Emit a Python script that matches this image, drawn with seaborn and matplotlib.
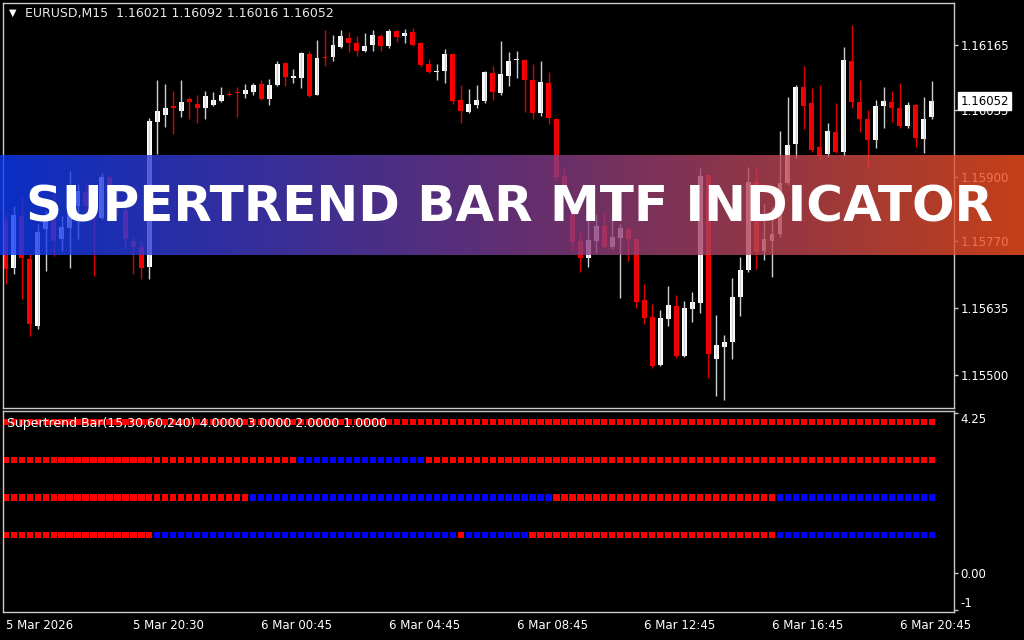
import numpy as np
import pandas as pd
import matplotlib.pyplot as plt
import seaborn as sns
from matplotlib.colors import LinearSegmentedColormap
from matplotlib.transforms import blended_transform_factory

# EURUSD M15 candles
opens = [1.15811, 1.15716, 1.15821, 1.15734, 1.15598, 1.15794, 1.15827, 1.15774, 1.15796, 1.15841,
         1.15868, 1.15851, 1.15817, 1.15898, 1.15851, 1.15831, 1.15770, 1.15758, 1.15718, 1.16009,
         1.16025, 1.16043, 1.16033, 1.16057, 1.16047, 1.16038, 1.16044, 1.16053, 1.16067, 1.16070,
         1.16066, 1.16071, 1.16086, 1.16056, 1.16084, 1.16128, 1.16098, 1.16098, 1.16147, 1.16065,
         1.16142, 1.16141, 1.16161, 1.16180, 1.16170, 1.16153, 1.16166, 1.16183, 1.16164, 1.16193,
         1.16183, 1.16191, 1.16170, 1.16126, 1.16110, 1.16113, 1.16148, 1.16055, 1.16030, 1.16045,
         1.16053, 1.16108, 1.16069, 1.16102, 1.16135, 1.16136, 1.16094, 1.16028, 1.16088, 1.16017,
         1.15902, 1.15824, 1.15770, 1.15735, 1.15770, 1.15800, 1.15758, 1.15775, 1.15794, 1.15774,
         1.15650, 1.15617, 1.15519, 1.15613, 1.15639, 1.15538, 1.15633, 1.15645, 1.15904, 1.15532,
         1.15556, 1.15566, 1.15656, 1.15711, 1.15889, 1.15749, 1.15770, 1.15784, 1.15887, 1.15966,
         1.16080, 1.16048, 1.15959, 1.15945, 1.15989, 1.15949, 1.16134, 1.16050, 1.16016, 1.15974,
         1.16042, 1.16051, 1.16038, 1.16001, 1.16045, 1.15975, 1.16021]
highs = [1.15824, 1.15841, 1.15858, 1.15743, 1.15804, 1.15831, 1.15865, 1.15821, 1.15912, 1.15885,
         1.15888, 1.15878, 1.15908, 1.15904, 1.15866, 1.15841, 1.15777, 1.15770, 1.16018, 1.16094,
         1.16086, 1.16073, 1.16095, 1.16060, 1.16065, 1.16073, 1.16070, 1.16081, 1.16072, 1.16081,
         1.16087, 1.16088, 1.16095, 1.16097, 1.16134, 1.16131, 1.16117, 1.16151, 1.16154, 1.16175,
         1.16195, 1.16185, 1.16196, 1.16191, 1.16183, 1.16190, 1.16196, 1.16188, 1.16198, 1.16195,
         1.16198, 1.16200, 1.16171, 1.16137, 1.16126, 1.16158, 1.16149, 1.16084, 1.16077, 1.16084,
         1.16112, 1.16122, 1.16173, 1.16152, 1.16154, 1.16137, 1.16126, 1.16132, 1.16110, 1.16018,
         1.15915, 1.15831, 1.15790, 1.15817, 1.15824, 1.15829, 1.15827, 1.15804, 1.15799, 1.15775,
         1.15683, 1.15642, 1.15630, 1.15679, 1.15661, 1.15649, 1.15667, 1.15918, 1.15905, 1.15620,
         1.15581, 1.15696, 1.15738, 1.15920, 1.15920, 1.15844, 1.15838, 1.15991, 1.16061, 1.16084,
         1.16123, 1.16078, 1.16084, 1.16007, 1.16048, 1.16162, 1.16205, 1.16094, 1.16034, 1.16055,
         1.16081, 1.16073, 1.16088, 1.16051, 1.16046, 1.16061, 1.16092]
lows = [1.15683, 1.15703, 1.15652, 1.15578, 1.15592, 1.15710, 1.15740, 1.15750, 1.15716, 1.15774,
        1.15817, 1.15699, 1.15814, 1.15821, 1.15821, 1.15753, 1.15703, 1.15693, 1.15693, 1.15945,
        1.15999, 1.15986, 1.16021, 1.16015, 1.16007, 1.16017, 1.16043, 1.16051, 1.16063, 1.16021,
        1.16058, 1.16065, 1.16055, 1.16044, 1.16082, 1.16082, 1.16088, 1.16079, 1.16060, 1.16064,
        1.16123, 1.16133, 1.16160, 1.16151, 1.16143, 1.16152, 1.16153, 1.16153, 1.16159, 1.16171,
        1.16169, 1.16163, 1.16121, 1.16108, 1.16094, 1.16088, 1.16046, 1.16007, 1.16028, 1.16038,
        1.16048, 1.16055, 1.16065, 1.16082, 1.16098, 1.16030, 1.16015, 1.16022, 1.16005, 1.15893,
        1.15861, 1.15750, 1.15708, 1.15718, 1.15745, 1.15755, 1.15753, 1.15654, 1.15730, 1.15634,
        1.15602, 1.15514, 1.15518, 1.15598, 1.15533, 1.15536, 1.15607, 1.15625, 1.15494, 1.15458,
        1.15449, 1.15531, 1.15618, 1.15708, 1.15713, 1.15732, 1.15697, 1.15778, 1.15883, 1.15937,
        1.15996, 1.15950, 1.15932, 1.15940, 1.15947, 1.15942, 1.16038, 1.15989, 1.15918, 1.15957,
        1.15997, 1.16009, 1.15998, 1.15998, 1.15960, 1.15947, 1.16016]
closes = [1.15713, 1.15823, 1.15735, 1.15602, 1.15789, 1.15811, 1.15770, 1.15799, 1.15838, 1.15870,
          1.15841, 1.15821, 1.15898, 1.15851, 1.15843, 1.15774, 1.15758, 1.15716, 1.16011, 1.16033,
          1.16039, 1.16038, 1.16051, 1.16050, 1.16038, 1.16063, 1.16055, 1.16065, 1.16064, 1.16068,
          1.16075, 1.16084, 1.16056, 1.16084, 1.16127, 1.16100, 1.16102, 1.16149, 1.16062, 1.16140,
          1.16139, 1.16166, 1.16183, 1.16169, 1.16154, 1.16164, 1.16185, 1.16163, 1.16193, 1.16181,
          1.16190, 1.16166, 1.16124, 1.16110, 1.16113, 1.16148, 1.16053, 1.16033, 1.16046, 1.16055,
          1.16110, 1.16070, 1.16106, 1.16134, 1.16137, 1.16094, 1.16028, 1.16090, 1.16019, 1.15900,
          1.15868, 1.15767, 1.15735, 1.15772, 1.15800, 1.15758, 1.15778, 1.15796, 1.15774, 1.15647,
          1.15615, 1.15517, 1.15615, 1.15641, 1.15538, 1.15635, 1.15647, 1.15902, 1.15541, 1.15560,
          1.15566, 1.15656, 1.15711, 1.15889, 1.15747, 1.15774, 1.15784, 1.15887, 1.15964, 1.16080,
          1.16043, 1.15954, 1.15942, 1.15991, 1.15950, 1.16136, 1.16050, 1.16015, 1.15974, 1.16043,
          1.16053, 1.16038, 1.16001, 1.16045, 1.15977, 1.16017, 1.16052]

# supertrend rows: runs of (colour, bars); level 4..1 = M15, M30, H1, H4
st_levels = [4, 3, 2, 1]
st_runs = {
    4: [('red', 117)],
    3: [('red', 37), ('blue', 16), ('red', 64)],
    2: [('red', 31), ('blue', 38), ('red', 28), ('blue', 20)],
    1: [('red', 19), ('blue', 38), ('red', 1), ('blue', 8), ('red', 31), ('blue', 20)],
}

price_ticks = [1.16165, 1.16035, 1.15900, 1.15770, 1.15635, 1.15500]
ind_ticks = [4.25, 0.0, -1.0]
ind_labels = ['4.25', '0.00', '-1']
time_ticks = [0, 16, 32, 48, 64, 80, 96, 112]
time_labels = ['5 Mar 2026', '5 Mar 20:30', '6 Mar 00:45', '6 Mar 04:45',
               '6 Mar 08:45', '6 Mar 12:45', '6 Mar 16:45', '6 Mar 20:45']

sns.set_theme(style='dark', rc={'figure.facecolor': 'black', 'axes.facecolor': 'black',
                                'axes.edgecolor': '#c8c8c8', 'axes.grid': False})
plt.rcParams['font.family'] = ['DejaVu Sans']

W, H = 1024, 640
fig = plt.figure(figsize=(W / 100, H / 100), dpi=100)
ax = fig.add_axes([3 / W, 1 - 408 / H, 951 / W, 405 / H])
ax2 = fig.add_axes([3 / W, 1 - 612 / H, 951 / W, 201 / H])

# candles
df = pd.DataFrame({'open': opens, 'high': highs, 'low': lows, 'close': closes})
df['bar'] = np.arange(len(df))
up = df['close'] >= df['open']
ax.vlines(df['bar'], df['low'], df['high'], colors=np.where(up, '#d0d0d0', '#e00000'), lw=1)
bottom = df[['open', 'close']].min(axis=1)
height = (df['close'] - df['open']).abs().clip(lower=0.00002)
ax.bar(df['bar'], height, bottom=bottom, width=0.62, color=np.where(up, 'white', '#ff0000'), linewidth=0)

ax.set_xlim(-0.34, 118.8)
ax.set_ylim(1.15433, 1.16250)
ax.yaxis.tick_right()
ax.set_yticks(price_ticks)
ax.set_yticklabels([f'{v:.5f}' for v in price_ticks])
ax.tick_params(axis='y', colors='#c8c8c8', labelcolor='white', labelsize=8.5,
               length=3, width=1, pad=1.5, direction='out')
ax.tick_params(axis='x', length=0, labelbottom=False)
for s in ax.spines.values():
    s.set_color('#c8c8c8')
    s.set_linewidth(1)

# current price marker, drawn over the 1.16035 label like the terminal does
tr = blended_transform_factory(ax.transAxes, ax.transData)
ax.text(1.0065, closes[-1], f'{closes[-1]:.5f}', transform=tr, fontsize=8.5, color='black',
        ha='left', va='center', clip_on=False, zorder=5,
        bbox=dict(boxstyle='square,pad=0.2', fc='white', ec='white'))

# supertrend squares
rows = []
for lvl in st_levels:
    i = 0
    for col, n in st_runs[lvl]:
        for _ in range(n):
            rows.append((i, lvl, col))
            i += 1
st = pd.DataFrame(rows, columns=['bar', 'level', 'trend'])
sns.scatterplot(data=st, x='bar', y='level', hue='trend',
                palette={'red': '#ff0000', 'blue': '#0000ff'},
                marker='s', s=20, linewidth=0, legend=False, ax=ax2)
ax2.set_xlim(-0.34, 118.8)
ax2.set_ylim(-1.05, 4.3)
ax2.set_xlabel('')
ax2.set_ylabel('')
ax2.yaxis.tick_right()
ax2.set_yticks(ind_ticks)
ax2.set_yticklabels(ind_labels)
ax2.tick_params(axis='y', colors='#c8c8c8', labelcolor='white', labelsize=8.5,
                length=3, width=1, pad=1.5, direction='out')
lbls = ax2.get_yticklabels()
lbls[0].set_va('top')
lbls[2].set_va('bottom')
ax2.set_xticks(time_ticks)
ax2.set_xticklabels(time_labels)
ax2.tick_params(axis='x', colors='#c8c8c8', labelcolor='white', labelsize=8.5,
                length=3, width=1, pad=2, direction='out')
for t in ax2.get_xticklabels():
    t.set_ha('left')
for s in ax2.spines.values():
    s.set_color('#c8c8c8')
    s.set_linewidth(1)

# header texts
fig.text(12.5 / W, 1 - 13 / H, '▼', fontsize=7, color='white', ha='center', va='center')
fig.text(25 / W, 1 - 13 / H, 'EURUSD,M15  1.16021 1.16092 1.16016 1.16052',
         fontsize=9, color='#e8e8e8', va='center')
fig.text(7 / W, 1 - 423 / H, 'Supertrend Bar(15,30,60,240) 4.0000 3.0000 2.0000 1.0000',
         fontsize=9, color='white', va='center')

# banner
bax = fig.add_axes([0, 1 - 255 / H, 1, 100 / H], zorder=10)
cmap = LinearSegmentedColormap.from_list('banner', ['#0d3af5', '#7a3a8f', '#f5501f'])
bax.imshow(np.linspace(0, 1, 256)[None, :], aspect='auto', cmap=cmap, alpha=0.8,
           extent=[0, 1, 0, 1])
bax.set_xlim(0, 1)
bax.set_ylim(0, 1)
bax.axis('off')
bax.text(0.498, 0.33, 'SUPERTREND BAR MTF INDICATOR', color='white', fontsize=36,
         fontweight='bold', family='DejaVu Sans', ha='center', va='baseline')

fig.savefig('out.png', dpi=100, facecolor='black')
